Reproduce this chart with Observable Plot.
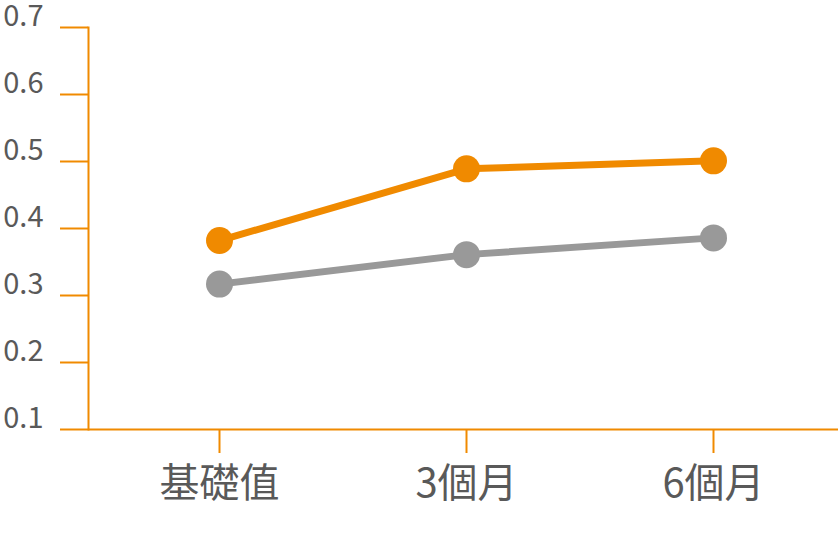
<!DOCTYPE html>
<html>
<head>
<meta charset="utf-8">
<script src="https://cdn.jsdelivr.net/npm/d3@7"></script>
<script src="https://cdn.jsdelivr.net/npm/@observablehq/plot@0.6"></script>
<style>
  html, body { margin: 0; padding: 0; background: #fff; }
  #chart { width: 838px; height: 540px; }
</style>
</head>
<body>
<div id="chart"></div>
<script>
const categories = ["基礎值", "3個月", "6個月"];
const orangeValues = [0.382, 0.489, 0.501];
const grayValues = [0.317, 0.361, 0.386];
const yTicks = [0.1, 0.2, 0.3, 0.4, 0.5, 0.6, 0.7];

const ORANGE = "#f08a00";
const GRAY = "#999999";
const TEXT = "#595959";

const orangeData = categories.map((c, i) => ({ cat: c, value: orangeValues[i] }));
const grayData = categories.map((c, i) => ({ cat: c, value: grayValues[i] }));

const chart = Plot.plot({
  width: 838,
  height: 540,
  marginLeft: 88,
  marginRight: 0,
  marginTop: 27,
  marginBottom: 111,
  x: { type: "point", domain: categories, range: [219, 713], padding: 0 },
  y: { domain: [0.1, 0.7] },
  style: { fontFamily: "'Noto Sans CJK TC', 'Noto Sans', sans-serif", background: "white" },
  marks: [
    Plot.ruleY([0.1], { stroke: ORANGE, strokeWidth: 2 }),
    Plot.frame({ anchor: "left", stroke: ORANGE, strokeWidth: 2 }),
    Plot.axisY({
      ticks: yTicks, tickSize: 28, tickFormat: () => "",
      stroke: ORANGE, strokeWidth: 2, label: null
    }),
    Plot.axisY({
      ticks: yTicks, tickSize: 0, tickPadding: 45, tickFormat: d3.format(".1f"),
      fontSize: 29, dy: -11, fill: TEXT, label: null
    }),
    Plot.axisX({
      tickSize: 24, tickPadding: 15, fontSize: 40,
      stroke: ORANGE, strokeWidth: 2, fill: TEXT, label: null
    }),
    Plot.line(grayData, { x: "cat", y: "value", stroke: GRAY, strokeWidth: 7 }),
    Plot.dot(grayData, { x: "cat", y: "value", fill: GRAY, r: 13.5 }),
    Plot.line(orangeData, { x: "cat", y: "value", stroke: ORANGE, strokeWidth: 7 }),
    Plot.dot(orangeData, { x: "cat", y: "value", fill: ORANGE, r: 13.5 })
  ]
});
document.getElementById("chart").appendChild(chart);
</script>
</body>
</html>
